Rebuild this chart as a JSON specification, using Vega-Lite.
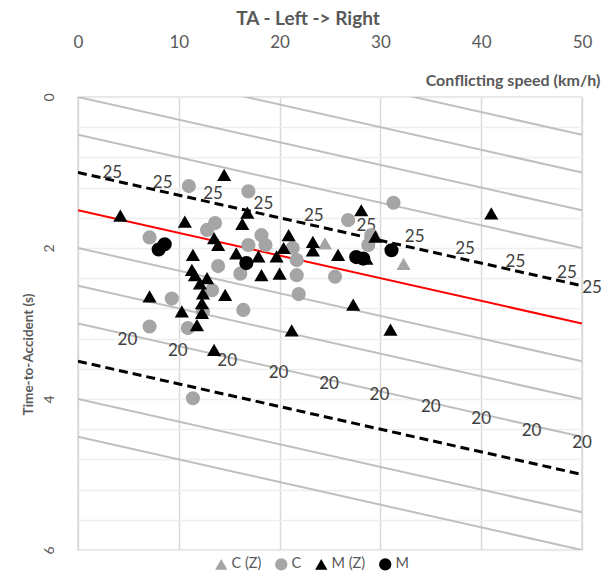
{
  "$schema": "https://vega.github.io/schema/vega-lite/v6.json",
  "width": 504,
  "height": 453,
  "autosize": {"type": "none"},
  "padding": {"left": 78, "top": 97, "right": 21, "bottom": 31},
  "background": "white",
  "title": {
    "text": "TA - Left -> Right",
    "fontSize": 19,
    "fontWeight": "bold",
    "color": "#595959",
    "font": "Lato",
    "anchor": "middle",
    "dx": -22,
    "offset": 4
  },
  "config": {
    "font": "Lato",
    "view": {"stroke": "#d9d9d9", "strokeWidth": 1.5},
    "axis": {"domain": false, "ticks": false, "labelColor": "#595959", "titleColor": "#595959", "labelFont": "Lato", "titleFont": "Lato"},
    "legend": {"labelFont": "Lato"}
  },
  "datasets": {
    "gray": [
      {"id": "a", "x": 0, "y": -1.0}, {"id": "a", "x": 50, "y": 0.5},
      {"id": "b", "x": 0, "y": -0.5}, {"id": "b", "x": 50, "y": 1.0},
      {"id": "c", "x": 0, "y": 0.0}, {"id": "c", "x": 50, "y": 1.5},
      {"id": "d", "x": 0, "y": 0.5}, {"id": "d", "x": 50, "y": 2.0},
      {"id": "e", "x": 0, "y": 2.0}, {"id": "e", "x": 50, "y": 3.5},
      {"id": "f", "x": 0, "y": 2.5}, {"id": "f", "x": 50, "y": 4.0},
      {"id": "g", "x": 0, "y": 3.0}, {"id": "g", "x": 50, "y": 4.5},
      {"id": "h", "x": 0, "y": 4.0}, {"id": "h", "x": 50, "y": 5.5},
      {"id": "i", "x": 0, "y": 4.5}, {"id": "i", "x": 50, "y": 6.0}
    ],
    "dashed": [
      {"id": "upper", "x": 0, "y": 1.0}, {"id": "upper", "x": 50, "y": 2.5},
      {"id": "lower", "x": 0, "y": 3.5}, {"id": "lower", "x": 50, "y": 5.0}
    ],
    "red": [
      {"id": "mid", "x": 0, "y": 1.5}, {"id": "mid", "x": 50, "y": 3.0}
    ],
    "labels": [
      {"x": 3.4, "y": 1.0, "t": "25"}, {"x": 8.4, "y": 1.14, "t": "25"}, {"x": 13.4, "y": 1.28, "t": "25"},
      {"x": 18.4, "y": 1.42, "t": "25"}, {"x": 23.4, "y": 1.57, "t": "25"}, {"x": 28.6, "y": 1.71, "t": "25"},
      {"x": 33.4, "y": 1.86, "t": "25"}, {"x": 38.4, "y": 2.01, "t": "25"}, {"x": 43.4, "y": 2.18, "t": "25"},
      {"x": 48.5, "y": 2.33, "t": "25"}, {"x": 51.0, "y": 2.53, "t": "25"},
      {"x": 4.9, "y": 3.22, "t": "20"}, {"x": 9.9, "y": 3.36, "t": "20"}, {"x": 14.8, "y": 3.5, "t": "20"},
      {"x": 19.9, "y": 3.65, "t": "20"}, {"x": 24.9, "y": 3.8, "t": "20"}, {"x": 29.9, "y": 3.95, "t": "20"},
      {"x": 35.0, "y": 4.1, "t": "20"}, {"x": 40.0, "y": 4.26, "t": "20"}, {"x": 45.0, "y": 4.42, "t": "20"},
      {"x": 50.0, "y": 4.58, "t": "20"}
    ],
    "points": [
      {"s": "C (Z)", "x": 24.5, "y": 1.94}, {"s": "C (Z)", "x": 32.3, "y": 2.21},
      {"s": "C", "x": 7.1, "y": 1.86}, {"s": "C", "x": 11.0, "y": 1.18}, {"s": "C", "x": 12.8, "y": 1.76},
      {"s": "C", "x": 13.6, "y": 1.67}, {"s": "C", "x": 13.9, "y": 2.24}, {"s": "C", "x": 16.1, "y": 2.34},
      {"s": "C", "x": 16.9, "y": 1.96}, {"s": "C", "x": 16.9, "y": 1.25}, {"s": "C", "x": 18.2, "y": 1.83},
      {"s": "C", "x": 18.6, "y": 1.96}, {"s": "C", "x": 21.7, "y": 2.36}, {"s": "C", "x": 21.7, "y": 2.16},
      {"s": "C", "x": 21.3, "y": 2.0}, {"s": "C", "x": 25.5, "y": 2.38}, {"s": "C", "x": 26.8, "y": 1.63},
      {"s": "C", "x": 28.8, "y": 1.96}, {"s": "C", "x": 29.1, "y": 1.83}, {"s": "C", "x": 31.3, "y": 1.4},
      {"s": "C", "x": 9.3, "y": 2.67}, {"s": "C", "x": 7.1, "y": 3.04}, {"s": "C", "x": 10.9, "y": 3.06},
      {"s": "C", "x": 13.3, "y": 2.56}, {"s": "C", "x": 12.4, "y": 2.84}, {"s": "C", "x": 16.4, "y": 2.82},
      {"s": "C", "x": 11.4, "y": 3.99}, {"s": "C", "x": 21.9, "y": 2.61},
      {"s": "M (Z)", "x": 4.2, "y": 1.57}, {"s": "M (Z)", "x": 10.6, "y": 1.65}, {"s": "M (Z)", "x": 14.5, "y": 1.03},
      {"s": "M (Z)", "x": 13.5, "y": 1.87}, {"s": "M (Z)", "x": 13.9, "y": 1.96}, {"s": "M (Z)", "x": 11.4, "y": 2.09},
      {"s": "M (Z)", "x": 11.3, "y": 2.29}, {"s": "M (Z)", "x": 11.6, "y": 2.36}, {"s": "M (Z)", "x": 12.8, "y": 2.4},
      {"s": "M (Z)", "x": 15.7, "y": 2.07}, {"s": "M (Z)", "x": 16.3, "y": 1.68}, {"s": "M (Z)", "x": 16.8, "y": 1.53},
      {"s": "M (Z)", "x": 17.9, "y": 2.11}, {"s": "M (Z)", "x": 19.7, "y": 2.11}, {"s": "M (Z)", "x": 20.4, "y": 2.0},
      {"s": "M (Z)", "x": 20.9, "y": 1.83}, {"s": "M (Z)", "x": 18.2, "y": 2.36}, {"s": "M (Z)", "x": 20.0, "y": 2.34},
      {"s": "M (Z)", "x": 23.3, "y": 1.92}, {"s": "M (Z)", "x": 23.3, "y": 2.03}, {"s": "M (Z)", "x": 25.8, "y": 2.09},
      {"s": "M (Z)", "x": 28.1, "y": 1.5}, {"s": "M (Z)", "x": 28.6, "y": 2.14}, {"s": "M (Z)", "x": 29.5, "y": 1.85},
      {"s": "M (Z)", "x": 7.1, "y": 2.64}, {"s": "M (Z)", "x": 10.3, "y": 2.84}, {"s": "M (Z)", "x": 11.8, "y": 3.02},
      {"s": "M (Z)", "x": 12.1, "y": 2.47}, {"s": "M (Z)", "x": 12.4, "y": 2.6}, {"s": "M (Z)", "x": 12.3, "y": 2.73},
      {"s": "M (Z)", "x": 12.3, "y": 2.86}, {"s": "M (Z)", "x": 14.6, "y": 2.62}, {"s": "M (Z)", "x": 13.5, "y": 3.35},
      {"s": "M (Z)", "x": 27.3, "y": 2.75}, {"s": "M (Z)", "x": 21.2, "y": 3.09}, {"s": "M (Z)", "x": 31.0, "y": 3.08},
      {"s": "M (Z)", "x": 41.0, "y": 1.54},
      {"s": "M", "x": 8.0, "y": 2.02}, {"s": "M", "x": 8.6, "y": 1.95}, {"s": "M", "x": 16.7, "y": 2.2},
      {"s": "M", "x": 27.6, "y": 2.12}, {"s": "M", "x": 28.3, "y": 2.14}, {"s": "M", "x": 31.1, "y": 2.03}
    ]
  },
  "encoding": {
    "x": {
      "field": "x", "type": "quantitative",
      "scale": {"domain": [0, 50], "nice": false, "zero": false},
      "axis": {
        "orient": "top", "values": [0, 10, 20, 30, 40, 50], "grid": true,
        "gridColor": "#d9d9d9", "gridWidth": 1.5, "labelFontSize": 17, "labelPadding": 46,
        "labelFlush": false,
        "title": "Conflicting speed (km/h)", "titleFontSize": 16, "titleFontWeight": "bold",
        "titleX": 522, "titleY": -17, "titleAlign": "right", "titleBaseline": "middle", "titleAnchor": null
      }
    },
    "y": {
      "field": "y", "type": "quantitative",
      "scale": {"domain": [0, 6], "nice": false, "zero": false, "reverse": true},
      "axis": {
        "orient": "left",
        "values": [0, 0.4, 0.8, 1.2, 1.6, 2, 2.4, 2.8, 3.2, 3.6, 4, 4.4, 4.8, 5.2, 5.6, 6],
        "grid": true, "gridColor": "#eeeeee", "gridWidth": 1.5,
        "labelAngle": 270, "labelFontSize": 14, "labelPadding": 22,
        "labelExpr": "datum.value % 2 == 0 ? '' + datum.value : ''",
        "title": "Time-to-Accident (s)", "titleFontSize": 13.5, "titleFontWeight": "bold",
        "titleAngle": 270, "titleX": -50, "titleY": 257, "titleAlign": "center", "titleBaseline": "middle"
      }
    }
  },
  "layer": [
    {
      "data": {"name": "gray"},
      "mark": {"type": "line", "clip": true, "color": "#bfbfbf", "strokeWidth": 2},
      "encoding": {"detail": {"field": "id", "type": "nominal"}}
    },
    {
      "data": {"name": "dashed"},
      "mark": {"type": "line", "clip": true, "color": "#000000", "strokeWidth": 3, "strokeDash": [9, 5]},
      "encoding": {"detail": {"field": "id", "type": "nominal"}}
    },
    {
      "data": {"name": "red"},
      "mark": {"type": "line", "clip": true, "color": "#ff0000", "strokeWidth": 2},
      "encoding": {"detail": {"field": "id", "type": "nominal"}}
    },
    {
      "data": {"name": "labels"},
      "mark": {"type": "text", "fontSize": 17, "color": "#404040", "font": "Lato", "align": "center", "baseline": "middle"},
      "encoding": {"text": {"field": "t", "type": "nominal"}}
    },
    {
      "data": {"name": "points"},
      "mark": {"type": "point", "filled": true, "opacity": 1, "size": 200},
      "encoding": {
        "color": {
          "field": "s", "type": "nominal",
          "scale": {"domain": ["C (Z)", "C", "M (Z)", "M"], "range": ["#a5a5a5", "#a5a5a5", "#000000", "#000000"]},
          "legend": {
            "orient": "none", "legendX": 136, "legendY": 460, "direction": "horizontal", "title": null,
            "symbolSize": 150, "labelFontSize": 14.5, "labelColor": "#595959", "labelOffset": 3, "columnPadding": 12, "symbolStrokeWidth": 0
          }
        },
        "shape": {
          "field": "s", "type": "nominal",
          "scale": {"domain": ["C (Z)", "C", "M (Z)", "M"], "range": ["triangle-up", "circle", "triangle-up", "circle"]},
          "legend": {
            "orient": "none", "legendX": 136, "legendY": 460, "direction": "horizontal", "title": null,
            "symbolSize": 150, "labelFontSize": 14.5, "labelColor": "#595959", "labelOffset": 3, "columnPadding": 12, "symbolStrokeWidth": 0
          }
        }
      }
    }
  ]
}
